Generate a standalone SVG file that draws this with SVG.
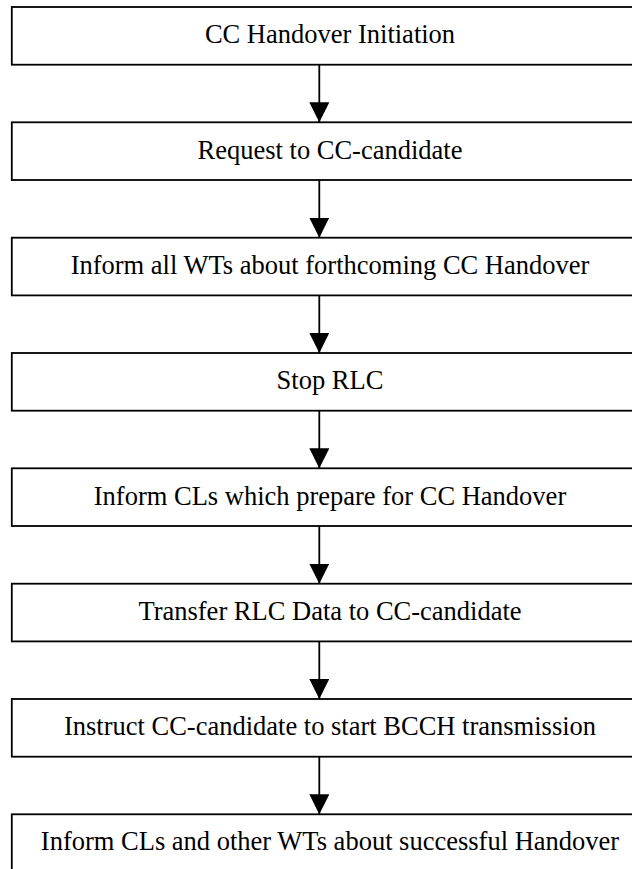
<svg xmlns="http://www.w3.org/2000/svg" width="632" height="869" viewBox="0 0 632 869">
<defs>
<style>
.box{fill:#ffffff;stroke:#000000;stroke-width:1.8}
.lbl{font-family:"Liberation Serif","Times New Roman",serif;font-size:26.5px;fill:#000000;text-anchor:middle}
.conn{stroke:#000000;stroke-width:1.8;fill:none}
</style>
<marker id="arr" markerUnits="userSpaceOnUse" markerWidth="20" markerHeight="20" refX="20" refY="10" orient="auto" viewBox="0 0 20 20">
<path d="M0,0 L20,10 L0,20 Z" fill="#000000"/>
</marker>
</defs>
<rect width="632" height="869" fill="#ffffff"/>
<g id="connectors">
<line class="conn" x1="319.3" y1="64.7" x2="319.3" y2="122.3" marker-end="url(#arr)"/>
<line class="conn" x1="319.3" y1="180" x2="319.3" y2="237.7" marker-end="url(#arr)"/>
<line class="conn" x1="319.3" y1="295.3" x2="319.3" y2="353" marker-end="url(#arr)"/>
<line class="conn" x1="319.3" y1="410.7" x2="319.3" y2="468.3" marker-end="url(#arr)"/>
<line class="conn" x1="319.3" y1="526" x2="319.3" y2="583.7" marker-end="url(#arr)"/>
<line class="conn" x1="319.3" y1="641.3" x2="319.3" y2="699" marker-end="url(#arr)"/>
<line class="conn" x1="319.3" y1="756.7" x2="319.3" y2="814.3" marker-end="url(#arr)"/>
</g>
<g id="n1"><rect class="box" x="11.8" y="7" width="640" height="57.7"/><text class="lbl" x="330" y="43.3">CC Handover Initiation</text></g>
<g id="n2"><rect class="box" x="11.8" y="122.3" width="640" height="57.7"/><text class="lbl" x="330" y="158.6">Request to CC-candidate</text></g>
<g id="n3"><rect class="box" x="11.8" y="237.7" width="640" height="57.7"/><text class="lbl" x="330" y="274">Inform all WTs about forthcoming CC Handover</text></g>
<g id="n4"><rect class="box" x="11.8" y="353" width="640" height="57.7"/><text class="lbl" x="330" y="389.3">Stop RLC</text></g>
<g id="n5"><rect class="box" x="11.8" y="468.3" width="640" height="57.7"/><text class="lbl" x="330" y="504.6">Inform CLs which prepare for CC Handover</text></g>
<g id="n6"><rect class="box" x="11.8" y="583.7" width="640" height="57.7"/><text class="lbl" x="330" y="620">Transfer RLC Data to CC-candidate</text></g>
<g id="n7"><rect class="box" x="11.8" y="699" width="640" height="57.7"/><text class="lbl" x="330" y="735.3">Instruct CC-candidate to start BCCH transmission</text></g>
<g id="n8"><rect class="box" x="11.8" y="814.3" width="640" height="80"/><text class="lbl" x="330" y="849.8">Inform CLs and other WTs about successful Handover</text></g>
</svg>
